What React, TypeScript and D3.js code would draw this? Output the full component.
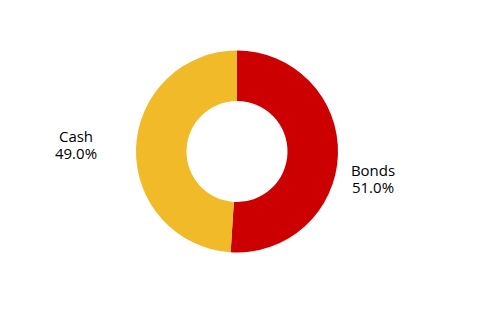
import React from "react";
import * as d3 from "d3";

const categories = ["Bonds", "Cash"];
const values = [51.0, 49.0];
const colors = ["#CC0000", "#F0BA28"];

const W = 483;
const H = 310;
const cx = 237;
const cy = 151.5;
const outerR = 101;
const innerR = 50.5;

// label offsets relative to the centre (text layout, not marks)
const labelPos = [
  { dx: 136, dy: 25 },
  { dx: -161, dy: -9 },
];

export default function App() {
  const pie = d3.pie<number>().sort(null).value((d) => d);
  const arcs = pie(values);
  const arcGen = d3.arc<d3.PieArcDatum<number>>().innerRadius(innerR).outerRadius(outerR);

  return (
    <svg width={W} height={H} style={{ position: "absolute", left: 0, top: 0 }}>
      <rect width={W} height={H} fill="#ffffff" />
      <g transform={`translate(${cx},${cy})`}>
        {arcs.map((a, i) => (
          <path key={categories[i]} d={arcGen(a) || ""} fill={colors[i]} />
        ))}
        {arcs.map((a, i) => (
          <text
            key={"l" + i}
            x={labelPos[i].dx}
            y={labelPos[i].dy}
            textAnchor="middle"
            fontFamily="'Open Sans', sans-serif"
            fontSize={15}
            fill="#000"
          >
            <tspan x={labelPos[i].dx} dy={-1}>{categories[i]}</tspan>
            <tspan x={labelPos[i].dx} dy={17.5}>{d3.format(".1f")(values[i])}%</tspan>
          </text>
        ))}
      </g>
    </svg>
  );
}
